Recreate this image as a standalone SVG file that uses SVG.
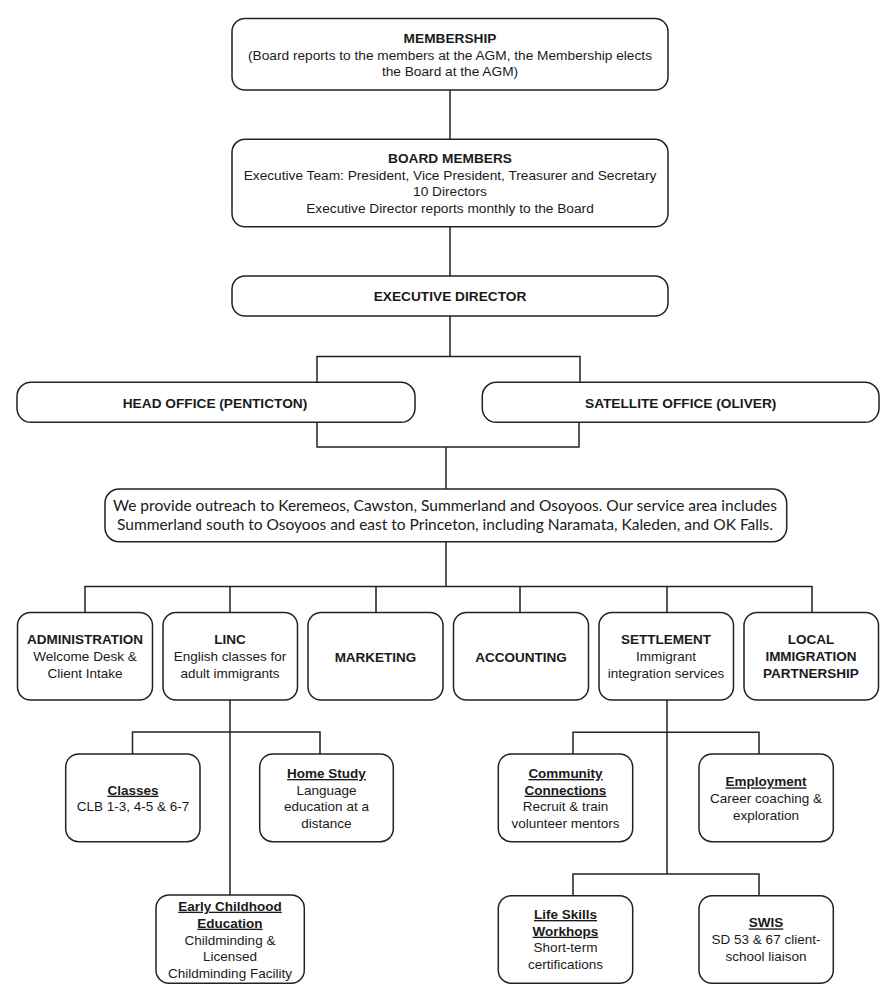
<svg xmlns="http://www.w3.org/2000/svg" width="894" height="1000" viewBox="0 0 894 1000">
<style>
.box{fill:#fff;stroke:#222;stroke-width:1.5}
.con{fill:none;stroke:#222;stroke-width:1.5}
text{font-family:"Liberation Sans",Arial,sans-serif;fill:#1a1a1a;text-anchor:middle}
.t{font-size:13.7px}
.s{font-size:13.5px}
.b{font-weight:bold}
.u{font-weight:bold;text-decoration:underline}
.c{font-family:Lato,"Open Sans",sans-serif;font-size:15px}
</style>
<rect width="894" height="1000" fill="#fff"/>
<g id="connectors">
<path class="con" d="M450 90V139M450 227V276M450 316V356.5"/>
<path class="con" d="M317 382V356.5H580V382"/>
<path class="con" d="M317 422V447H579V422M446 447V489"/>
<path class="con" d="M446 542V586.5M85 612.5V586.5H812V612.5M230 586.5V612.5M376 586.5V612.5M520 586.5V612.5M667 586.5V612.5"/>
<path class="con" d="M230 700V895M132.5 754V732H320V754"/>
<path class="con" d="M667 700V874M573 754V732.3H759V754M573 895.7V874H759V895.7"/>
</g>
<g id="membership">
<rect class="box" x="232" y="18.5" width="436" height="71.5" rx="13"/>
<text class="t b" x="450" y="43">MEMBERSHIP</text>
<text class="t" x="450" y="59.6">(Board reports to the members at the AGM, the Membership elects</text>
<text class="t" x="450" y="76.3">the Board at the AGM)</text>
</g>
<g id="board">
<rect class="box" x="232" y="139.3" width="436" height="87.5" rx="13"/>
<text class="t b" x="450" y="163">BOARD MEMBERS</text>
<text class="t" x="450" y="179.6">Executive Team: President, Vice President, Treasurer and Secretary</text>
<text class="t" x="450" y="196.3">10 Directors</text>
<text class="t" x="450" y="213">Executive Director reports monthly to the Board</text>
</g>
<g id="exec">
<rect class="box" x="232" y="276" width="436" height="40" rx="13"/>
<text class="t b" x="450" y="300.6">EXECUTIVE DIRECTOR</text>
</g>
<g id="head-office">
<rect class="box" x="17" y="382.3" width="398" height="40" rx="14"/>
<text class="t b" x="215" y="408">HEAD OFFICE (PENTICTON)</text>
</g>
<g id="satellite-office">
<rect class="box" x="482.3" y="382.3" width="396.7" height="40" rx="14"/>
<text class="t b" x="680.7" y="408">SATELLITE OFFICE (OLIVER)</text>
</g>
<g id="outreach">
<rect class="box" x="105" y="489" width="681.7" height="52.7" rx="14"/>
<text class="c" x="445" y="510.7" textLength="664" lengthAdjust="spacingAndGlyphs">We provide outreach to Keremeos, Cawston, Summerland and Osoyoos. Our service area includes</text>
<text class="c" x="445" y="530" textLength="656" lengthAdjust="spacingAndGlyphs">Summerland south to Osoyoos and east to Princeton, including Naramata, Kaleden, and OK Falls.</text>
</g>
<g id="administration">
<rect class="box" x="17.5" y="612.5" width="135" height="87.5" rx="13"/>
<text class="s b" x="85" y="644">ADMINISTRATION</text>
<text class="s" x="85" y="661">Welcome Desk &amp;</text>
<text class="s" x="85" y="678">Client Intake</text>
</g>
<g id="linc">
<rect class="box" x="163" y="612.5" width="134.5" height="87.5" rx="13"/>
<text class="s b" x="230" y="644">LINC</text>
<text class="s" x="230" y="661">English classes for</text>
<text class="s" x="230" y="678">adult immigrants</text>
</g>
<g id="marketing">
<rect class="box" x="308" y="612.5" width="135" height="87.5" rx="13"/>
<text class="s b" x="375.5" y="661.5">MARKETING</text>
</g>
<g id="accounting">
<rect class="box" x="453.5" y="612.5" width="135" height="87.5" rx="13"/>
<text class="s b" x="521" y="661.5">ACCOUNTING</text>
</g>
<g id="settlement">
<rect class="box" x="599" y="612.5" width="134.5" height="87.5" rx="13"/>
<text class="s b" x="666" y="644">SETTLEMENT</text>
<text class="s" x="666" y="661">Immigrant</text>
<text class="s" x="666" y="678">integration services</text>
</g>
<g id="lip">
<rect class="box" x="744" y="612.5" width="134.5" height="87.5" rx="13"/>
<text class="s b" x="811" y="644">LOCAL</text>
<text class="s b" x="811" y="661">IMMIGRATION</text>
<text class="s b" x="811" y="678">PARTNERSHIP</text>
</g>
<g id="classes">
<rect class="box" x="65.7" y="754" width="134.3" height="87.7" rx="13"/>
<text class="s u" x="133" y="794.7">Classes</text>
<text class="s" x="133" y="811.4">CLB 1-3, 4-5 &amp; 6-7</text>
</g>
<g id="home-study">
<rect class="box" x="259.7" y="754" width="133.6" height="87.7" rx="13"/>
<text class="s u" x="326.5" y="778">Home Study</text>
<text class="s" x="326.5" y="794.7">Language</text>
<text class="s" x="326.5" y="811.4">education at a</text>
<text class="s" x="326.5" y="828">distance</text>
</g>
<g id="ece">
<rect class="box" x="156" y="895" width="148.3" height="88.3" rx="13"/>
<text class="s u" x="230" y="910.7">Early Childhood</text>
<text class="s u" x="230" y="927.7">Education</text>
<text class="s" x="230" y="944.7">Childminding &amp;</text>
<text class="s" x="230" y="961.4">Licensed</text>
<text class="s" x="230" y="978">Childminding Facility</text>
</g>
<g id="community-connections">
<rect class="box" x="498.3" y="754" width="134.4" height="87.7" rx="13"/>
<text class="s u" x="565.5" y="778">Community</text>
<text class="s u" x="565.5" y="794.7">Connections</text>
<text class="s" x="565.5" y="811.4">Recruit &amp; train</text>
<text class="s" x="565.5" y="828">volunteer mentors</text>
</g>
<g id="employment">
<rect class="box" x="699" y="754" width="134.3" height="87.7" rx="13"/>
<text class="s u" x="766" y="786.4">Employment</text>
<text class="s" x="766" y="803">Career coaching &amp;</text>
<text class="s" x="766" y="819.7">exploration</text>
</g>
<g id="life-skills">
<rect class="box" x="498.3" y="895.7" width="134.4" height="87.6" rx="13"/>
<text class="s u" x="565.5" y="919">Life Skills</text>
<text class="s u" x="565.5" y="935.7">Workhops</text>
<text class="s" x="565.5" y="952.4">Short-term</text>
<text class="s" x="565.5" y="969">certifications</text>
</g>
<g id="swis">
<rect class="box" x="699" y="895.7" width="134.3" height="87.6" rx="13"/>
<text class="s u" x="766" y="927.4">SWIS</text>
<text class="s" x="766" y="944">SD 53 &amp; 67 client-</text>
<text class="s" x="766" y="960.7">school liaison</text>
</g>
</svg>
